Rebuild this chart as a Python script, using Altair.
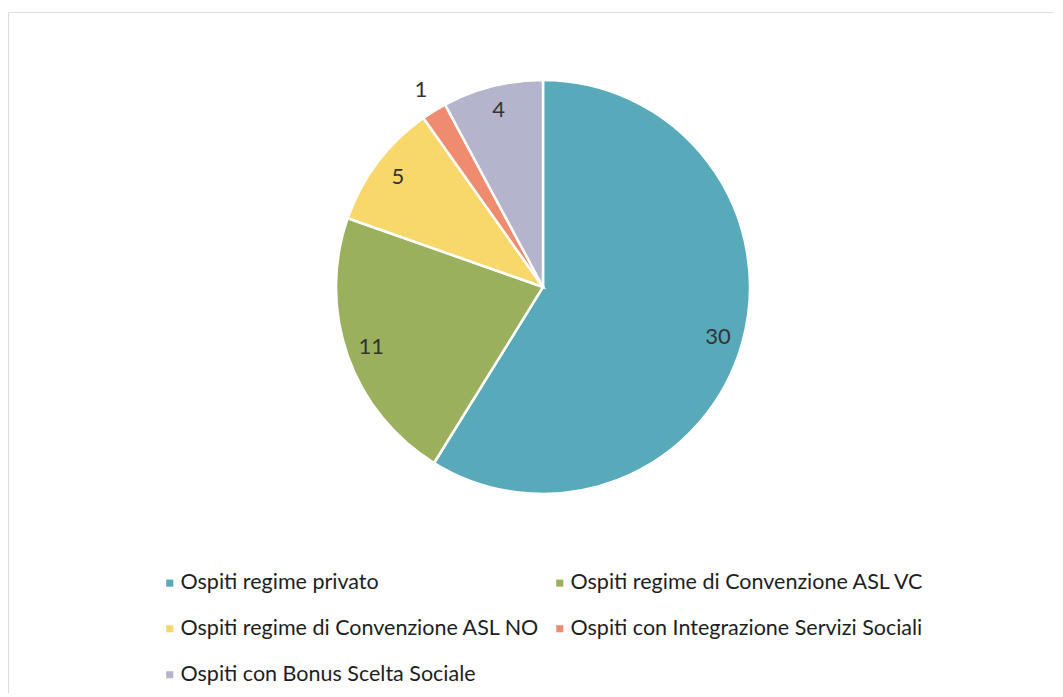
import altair as alt
import pandas as pd

categories = [
    "Ospiti regime privato",
    "Ospiti  regime di Convenzione ASL VC",
    "Ospiti regime di Convenzione ASL NO",
    "Ospiti con Integrazione Servizi Sociali",
    "Ospiti con Bonus Scelta Sociale",
]
values = [30, 11, 5, 1, 4]
colors = ["#58a9b9", "#9bb05c", "#f9d86b", "#ef8b6e", "#b4b4cc"]

df = pd.DataFrame({"cat": categories, "val": values, "order": list(range(len(values)))})

CX, CY = 535, 275
R = 207

color = alt.Color(
    "cat:N",
    scale=alt.Scale(domain=categories, range=colors),
    sort=categories,
    legend=alt.Legend(
        title=None,
        orient="none",
        direction="horizontal",
        legendX=151,
        legendY=560,
        columns=2,
        columnPadding=9,
        rowPadding=23,
        padding=0,
        symbolType="square",
        symbolSize=50,
        symbolStrokeWidth=0,
        labelFont="Lato",
        labelFontSize=21.5,
        labelColor="#1e1e1e",
        labelLimit=600,
        labelOffset=0,
        symbolOffset=0,
    ),
)

arcs = alt.Chart(df).mark_arc(outerRadius=R, stroke="white", strokeWidth=2.5).encode(
    theta=alt.Theta("val:Q", stack=True),
    order=alt.Order("order:Q"),
    color=color,
    x=alt.value(CX),
    y=alt.value(CY),
)

labels = (
    alt.Chart(df)
    .transform_window(cum="sum(val)", sort=[alt.SortField("order")], frame=[None, 0])
    .transform_calculate(mid="datum.cum - datum.val / 2", outside="datum.val > 1 ? 0 : 1")
    .mark_text(font="Lato", fontSize=22, color="#333333")
    .encode(
        theta=alt.Theta("mid:Q", stack=False),
        text="val:Q",
        x=alt.value(CX),
        y=alt.value(CY),
        radius=alt.Radius("outside:Q", scale=alt.Scale(domain=[0, 1], range=[182, 232], zero=False)),
    )
)

chart = (
    alt.layer(arcs, labels)
    .properties(width=1045, height=681, padding={"top": 4, "left": 0, "right": 0, "bottom": 0})
    .configure_view(stroke="#e4e4e4", strokeWidth=1)
    .configure(background="white")
)

chart.save("out.html", embed_options={"renderer": "svg", "actions": False})
